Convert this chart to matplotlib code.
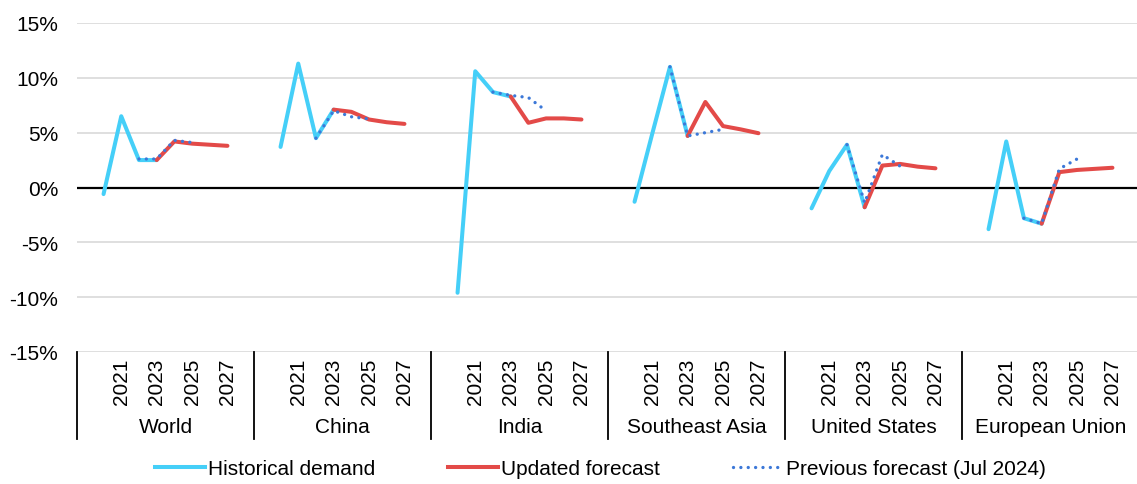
import matplotlib
matplotlib.use('Agg')
import matplotlib.pyplot as plt
from matplotlib.lines import Line2D
from matplotlib.ticker import FuncFormatter
import matplotlib.transforms as mtransforms

plt.rcParams['font.family'] = ['Liberation Sans', 'DejaVu Sans']

# data (% change y-o-y)
regions = ["World", "China", "India", "Southeast Asia", "United States", "European Union"]
year_labels = [2021, 2023, 2025, 2027]

hist_years = [2020, 2021, 2022, 2023]
historical = [
    [-0.6, 6.5, 2.5, 2.5],
    [3.7, 11.3, 4.5, 7.1],
    [-9.6, 10.6, 8.7, 8.3],
    [-1.3, 4.9, 11.0, 4.7],
    [-1.9, 1.5, 3.9, -1.8],
    [-3.8, 4.2, -2.8, -3.3],
]

upd_years = [2023, 2024, 2025, 2026, 2027]
updated = [
    [2.5, 4.2, 4.0, 3.9, 3.8],
    [7.1, 6.9, 6.2, 5.95, 5.8],
    [8.3, 5.9, 6.3, 6.3, 6.2],
    [4.7, 7.8, 5.6, 5.3, 4.95],
    [-1.8, 2.0, 2.15, 1.9, 1.75],
    [-3.3, 1.4, 1.6, 1.7, 1.8],
]

prev_years = [2022, 2023, 2024, 2025]
previous = [
    [2.6, 2.6, 4.3, 4.1],
    [4.5, 7.0, 6.45, 6.25],
    [8.7, 8.4, 8.2, 7.0],
    [11.0, 4.7, 5.0, 5.3],
    [3.9, -1.4, 3.0, 1.95],
    [-2.8, -3.3, 1.7, 2.6],
]

CYAN = '#45CFF8'
RED = '#E34A48'
BLUE = '#3C78D8'
SLOTS = 10  # category slots per region
DOTS = (0, (0.01, 2.2))


def xpos(g, year):
    return g * SLOTS + (year - 2019) + 0.5


fig = plt.figure(figsize=(11.37, 4.85), dpi=100)
ax = fig.add_axes([77 / 1137, 1 - 353 / 485, 1062 / 1137, 329 / 485])

for g in range(len(regions)):
    ax.plot([xpos(g, y) for y in hist_years], historical[g], color=CYAN, lw=2.9,
            solid_capstyle='round', zorder=3)
    ax.plot([xpos(g, y) for y in upd_years], updated[g], color=RED, lw=2.9,
            solid_capstyle='round', zorder=4)
    ax.plot([xpos(g, y) for y in prev_years], previous[g], color=BLUE, lw=2.4,
            linestyle=DOTS, dash_capstyle='round', zorder=5)

ax.set_xlim(0, SLOTS * len(regions))
ax.set_ylim(-15, 15)
ax.set_yticks(range(-15, 16, 5))
ax.yaxis.set_major_formatter(FuncFormatter(lambda v, p: '%d%%' % v))
ax.tick_params(axis='y', length=0, labelsize=15, pad=13.5)
ax.set_xticks([])
ax.grid(axis='y', color='#D9D9D9', lw=1.2)
ax.set_axisbelow(True)
ax.axhline(0, color='black', lw=1.6, zorder=2)
for s in ax.spines.values():
    s.set_visible(False)

# multi-level category axis below the plot
trans = mtransforms.blended_transform_factory(ax.transData, fig.transFigure)
for g, name in enumerate(regions):
    for y in year_labels:
        ax.text(xpos(g, y), 1 - 359 / 485, str(y), rotation=90, ha='center', va='top',
                fontsize=15, transform=trans)
    ax.text(g * SLOTS + SLOTS / 2, 1 - 428 / 485, name, ha='center', va='center',
            fontsize=15, transform=trans)
for g in range(len(regions) + 1):
    ax.add_line(Line2D([g * SLOTS, g * SLOTS], [1 - 353 / 485, 1 - 440 / 485], color='black',
                       lw=1.3, transform=trans, clip_on=False))

handles = [
    Line2D([], [], color=CYAN, lw=2.9),
    Line2D([], [], color=RED, lw=2.9),
    Line2D([], [], color=BLUE, lw=2.4, linestyle=DOTS, dash_capstyle='round'),
]
labels = ["Historical demand", "Updated forecast", "Previous forecast (Jul 2024)"]
fig.legend(handles, labels, loc='center', bbox_to_anchor=(0.528, 1 - 470 / 485), ncol=3,
           frameon=False, fontsize=15, handlelength=2.4, handletextpad=0.15,
           columnspacing=3.5)

fig.savefig('out.png', dpi=100)
